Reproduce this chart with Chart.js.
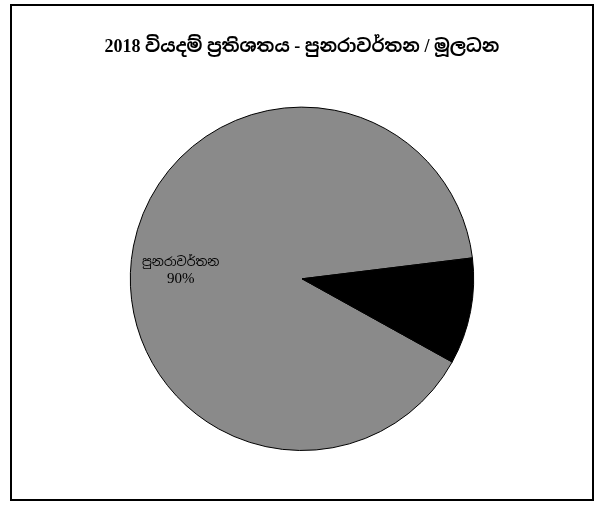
<!DOCTYPE html>
<html>
<head>
<meta charset="utf-8">
<script src="https://cdn.jsdelivr.net/npm/chart.js@4/dist/chart.umd.min.js"></script>
<style>
  html, body { margin: 0; padding: 0; background: #fff; }
  #wrap { width: 600px; height: 508px; }
</style>
</head>
<body>
<div id="wrap"><canvas id="chart"></canvas></div>
<script>
const title = "2018 වියදම් ප්‍රතිශතය - පුනරාවර්තන / මූලධන"
const categories = ["පුනරාවර්තන", "මූලධන"]
const shares = [90, 10]
const sliceColors = ["#8a8a8a", "#000000"]
const labelColors = ["#000000", "#000000"]

const SERIF = "'Liberation Serif', 'Noto Sans Sinhala', 'Iskoola Pota', 'DejaVu Serif', serif"

// outer frame like the scanned page border
const framePlugin = {
  id: "frame",
  beforeDraw(chart) {
    const ctx = chart.ctx
    ctx.save()
    ctx.fillStyle = "#fff"
    ctx.fillRect(0, 0, chart.width, chart.height)
    ctx.strokeStyle = "#000"
    ctx.lineWidth = 2
    ctx.strokeRect(11, 5, 582, 495)
    ctx.restore()
  }
}

// category name + percent inside each slice
const sliceLabels = {
  id: "sliceLabels",
  afterDatasetsDraw(chart) {
    const ctx = chart.ctx
    const meta = chart.getDatasetMeta(0)
    const total = shares.reduce((a, b) => a + b, 0)
    ctx.save()
    ctx.textAlign = "center"
    ctx.textBaseline = "middle"
    meta.data.forEach((arc, i) => {
      const p = arc.getProps(["x", "y", "startAngle", "endAngle", "outerRadius"], true)
      const mid = (p.startAngle + p.endAngle) / 2
      const r = p.outerRadius * 0.72
      const x = p.x + Math.cos(mid) * r
      const y = p.y + Math.sin(mid) * r + 16
      ctx.fillStyle = labelColors[i]
      ctx.font = "12.5px " + SERIF
      ctx.fillText(categories[i], x, y - 8)
      ctx.font = "15px " + SERIF
      ctx.fillText(Math.round(shares[i] / total * 100) + "%", x, y + 8)
    })
    ctx.restore()
  }
}

new Chart(document.getElementById("chart"), {
  type: "pie",
  data: {
    labels: categories,
    datasets: [{
      data: shares,
      backgroundColor: sliceColors,
      borderColor: "#000",
      borderWidth: 1
    }]
  },
  options: {
    responsive: true,
    maintainAspectRatio: false,
    animation: false,
    rotation: 119,
    layout: {
      padding: {top: 29, bottom: 57, left: 4, right: 0}
    },
    plugins: {
      legend: {display: false},
      tooltip: {enabled: false},
      title: {
        display: true,
        text: title,
        color: "#000",
        font: {family: SERIF, size: 18, weight: "bold", lineHeight: 1.2},
        padding: {top: 8, bottom: 48}
      }
    }
  },
  plugins: [framePlugin, sliceLabels]
})
</script>
</body>
</html>
